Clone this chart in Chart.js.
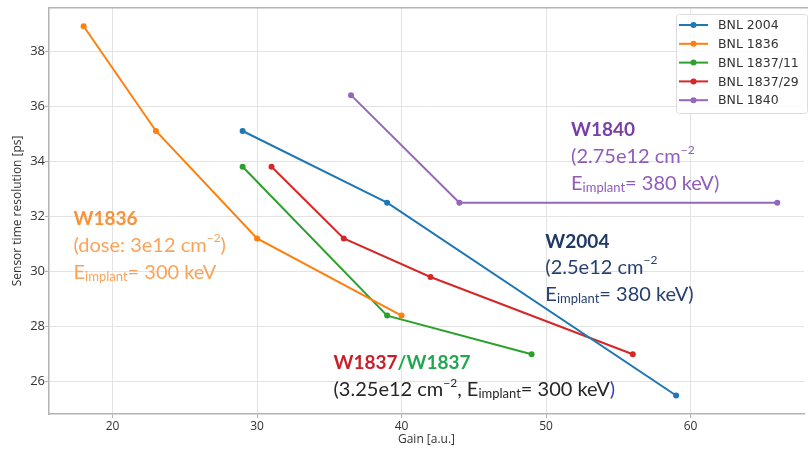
<!DOCTYPE html>
<html>
<head>
<meta charset="utf-8">
<script src="https://cdn.jsdelivr.net/npm/chart.js@4.4.1/dist/chart.umd.min.js"></script>
<style>
  html, body { margin: 0; padding: 0; background: #fff; }
  #wrap { width: 808px; height: 449px; }
</style>
</head>
<body>
<div id="wrap"><canvas id="gainChart"></canvas></div>
<script>
// ==================== DATA =====================
const seriesNames = ["BNL 2004", "BNL 1836", "BNL 1837/11", "BNL 1837/29", "BNL 1840"];
const seriesColors = ["#1f77b4", "#ff7f0e", "#2ca02c", "#d62728", "#9467bd"];

const gain2004 = [29, 39, 59];
const res2004 = [35.1, 32.5, 25.5];
const gain1836 = [18, 23, 30, 40];
const res1836 = [38.9, 35.1, 31.2, 28.4];
const gain1837a = [29, 39, 49];
const res1837a = [33.8, 28.4, 27.0];
const gain1837b = [31, 36, 42, 56];
const res1837b = [33.8, 31.2, 29.8, 27.0];
const gain1840 = [36.5, 44, 66];
const res1840 = [36.4, 32.5, 32.5];

const xTicks = [20, 30, 40, 50, 60];
const yTicks = [26, 28, 30, 32, 34, 36, 38];

const seriesGain = [gain2004, gain1836, gain1837a, gain1837b, gain1840];
const seriesRes = [res2004, res1836, res1837a, res1837b, res1840];

// ============== ANNOTATIONS (data coords) ===============
const FONT = "Lato, 'Open Sans', sans-serif";
const annotations = [
  { x: 17.3, lines: [
    { y: 31.92, runs: [["W1836", "#f7923a", 19, "bold"]] },
    { y: 30.94, runs: [["(dose: 3e12 cm", "#f9a35a", 20], ["\u2212", "#f9a35a", 12, "", "sup"], ["2", "#f9a35a", 12, "", "sup"], [")", "#f9a35a", 20]] },
    { y: 29.96, runs: [["E", "#f9a35a", 20], ["implant", "#f9a35a", 13, "", "sub"], ["= 300 keV", "#f9a35a", 20]] },
  ]},
  { x: 51.73, lines: [
    { y: 35.14, runs: [["W1840", "#7a3ea8", 19, "bold"]] },
    { y: 34.16, runs: [["(2.75e12 cm", "#8f5cbc", 20], ["\u2212", "#8f5cbc", 12, "", "sup"], ["2", "#8f5cbc", 12, "", "sup"]] },
    { y: 33.19, runs: [["E", "#8f5cbc", 20], ["implant", "#8f5cbc", 13, "", "sub"], ["= 380 keV)", "#8f5cbc", 20]] },
  ]},
  { x: 49.95, lines: [
    { y: 31.09, runs: [["W2004", "#1f3864", 19, "bold"]] },
    { y: 30.15, runs: [["(2.5e12 cm", "#243f6e", 20], ["\u2212", "#243f6e", 12, "", "sup"], ["2", "#243f6e", 12, "", "sup"]] },
    { y: 29.17, runs: [["E", "#243f6e", 20], ["implant", "#243f6e", 13, "", "sub"], ["= 380 keV)", "#243f6e", 20]] },
  ]},
  { x: 35.29, lines: [
    { y: 26.68, runs: [["W1837", "#c8202a", 19, "bold"], ["/W1837", "#1fa84f", 19, "bold"]] },
    { y: 25.70, runs: [["(3.25e12 cm", "#262626", 20], ["\u2212", "#262626", 12, "", "sup"], ["2", "#262626", 12, "", "sup"],
                        [", E", "#262626", 20], ["implant", "#262626", 13, "", "sub"], ["= 300 keV", "#262626", 20], [")", "#3a3ac0", 20]] },
  ]},
];

function drawRuns(ctx, x, y, runs) {
  let cx = x;
  runs.forEach(([t, color, size, weight, pos]) => {
    ctx.font = `${weight || ""} ${size}px ${FONT}`;
    ctx.fillStyle = color;
    let dy = 0;
    if (pos === "sub") dy = 4;
    if (pos === "sup") dy = -7;
    ctx.fillText(t, cx, y + dy);
    cx += ctx.measureText(t).width;
  });
}

// frame, annotations and legend
const overlayPlugin = {
  id: "overlay",
  afterDatasetsDraw(chart) {
    const { ctx, chartArea, scales } = chart;
    ctx.save();
    // top frame line
    ctx.strokeStyle = "#b3b3b3";
    ctx.lineWidth = 1.5;
    ctx.beginPath();
    ctx.moveTo(chartArea.left, chartArea.top);
    ctx.lineTo(chart.width, chartArea.top);
    ctx.stroke();

    ctx.textBaseline = "middle";
    ctx.textAlign = "left";
    annotations.forEach((a) => {
      const px = scales.x.getPixelForValue(a.x);
      a.lines.forEach((l) => drawRuns(ctx, px, scales.y.getPixelForValue(l.y), l.runs));
    });

    // legend box
    const bx = 676, by = 14, bw = 131, bh = 99;
    ctx.fillStyle = "rgba(255,255,255,0.85)";
    ctx.strokeStyle = "#dcdcdc";
    ctx.lineWidth = 1;
    ctx.beginPath();
    ctx.roundRect(bx + 0.5, by + 0.5, bw, bh, 3);
    ctx.fill();
    ctx.stroke();
    ctx.font = "12.5px 'DejaVu Sans', sans-serif";
    seriesNames.forEach((name, i) => {
      const ly = 25 + i * 18.8;
      ctx.strokeStyle = seriesColors[i];
      ctx.lineWidth = 2;
      ctx.beginPath();
      ctx.moveTo(679, ly);
      ctx.lineTo(708, ly);
      ctx.stroke();
      ctx.fillStyle = seriesColors[i];
      ctx.beginPath();
      ctx.arc(693.5, ly, 3, 0, Math.PI * 2);
      ctx.fill();
      ctx.fillStyle = "#333";
      ctx.fillText(name, 718, ly + 1);
    });
    ctx.restore();
  },
};

// ============== RENDER CHART ===============
const datasets = seriesNames.map((name, i) => ({
  label: name,
  data: seriesGain[i].map((g, j) => ({ x: g, y: seriesRes[i][j] })),
  borderColor: seriesColors[i],
  backgroundColor: seriesColors[i],
  borderWidth: 2,
  pointRadius: 3,
  pointBorderWidth: 0,
  tension: 0,
}));

const tickFont = { family: "'Open Sans', sans-serif", size: 12 };

new Chart(document.getElementById("gainChart"), {
  type: "line",
  data: { datasets },
  plugins: [overlayPlugin],
  options: {
    responsive: true,
    maintainAspectRatio: false,
    animation: false,
    plugins: { legend: { display: false }, tooltip: { enabled: false } },
    layout: { padding: { left: 0, right: 0, top: 6, bottom: 0 } },
    scales: {
      x: {
        type: "linear",
        min: 15.6,
        max: 67.85,
        afterBuildTicks: (axis) => { axis.ticks = xTicks.map((v) => ({ value: v })); },
        afterFit: (axis) => { axis.height = 35; },
        grid: { color: "#e3e3e3", lineWidth: 1, tickLength: 4, tickColor: "#b3b3b3" },
        border: { color: "#b3b3b3", width: 1.5 },
        ticks: { font: tickFont, color: "#333", padding: 1, maxRotation: 0 },
        title: { display: true, text: "Gain [a.u.]", font: tickFont, color: "#333", padding: { top: 0, bottom: 2 } },
      },
      y: {
        type: "linear",
        min: 24.83,
        max: 39.57,
        afterBuildTicks: (axis) => { axis.ticks = yTicks.map((v) => ({ value: v })); },
        afterFit: (axis) => { axis.width = 49; },
        grid: { color: "#e3e3e3", lineWidth: 1, tickLength: 4, tickColor: "#b3b3b3" },
        border: { color: "#b3b3b3", width: 1.5 },
        ticks: { font: { family: "'Open Sans', sans-serif", size: 13 }, color: "#333", padding: 0 },
        title: { display: true, text: "Sensor time resolution [ps]", font: tickFont, color: "#333", padding: { top: 10, bottom: 0 } },
      },
    },
  },
});
</script>
</body>
</html>
